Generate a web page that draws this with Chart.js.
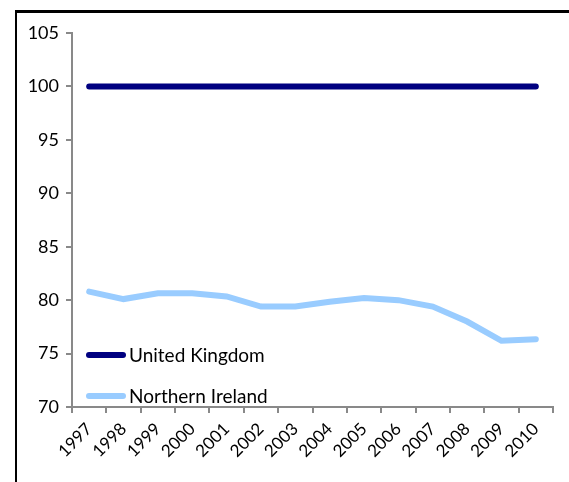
<!DOCTYPE html>
<html>
<head>
<meta charset="utf-8">
<script src="https://cdn.jsdelivr.net/npm/chart.js@4"></script>
<style>
  body { margin: 0; background: #fff; }
  #frame {
    position: absolute; left: 15px; top: 10px; right: 0; bottom: 0;
    border-left: 2px solid #000; border-top: 3px solid #000;
  }
  #chart { position: absolute; left: 0; top: 0; }
</style>
</head>
<body>
<div id="frame"></div>
<canvas id="chart" width="569" height="482"></canvas>
<script>
// years on the x axis
const years = ["1997", "1998", "1999", "2000", "2001", "2002", "2003",
  "2004", "2005", "2006", "2007", "2008", "2009", "2010"];

// index values, UK = 100
const ukValues = [100, 100, 100, 100, 100, 100, 100, 100, 100, 100, 100, 100, 100, 100];
const niValues = [80.8, 80.1, 80.65, 80.65, 80.35, 79.4, 79.4, 79.85, 80.2, 80.0, 79.4, 78.0, 76.2, 76.35];

const yTicks = [70, 75, 80, 85, 90, 95, 100, 105];

const FONT = "Lato, 'Open Sans', sans-serif";
const axisGrey = "#898989";

// draws the legend inside the plot, bottom left
const insideLegend = {
  id: "insideLegend",
  afterDraw(chart) {
    const ctx = chart.ctx;
    const rows = [355, 396];
    ctx.save();
    chart.data.datasets.forEach((ds, i) => {
      const y = rows[i];
      ctx.strokeStyle = ds.borderColor;
      ctx.lineWidth = ds.borderWidth;
      ctx.lineCap = "round";
      ctx.beginPath();
      ctx.moveTo(89, y);
      ctx.lineTo(123, y);
      ctx.stroke();
      ctx.fillStyle = "#000";
      ctx.font = "19px " + FONT;
      ctx.textBaseline = "middle";
      ctx.fillText(ds.label, 129, y + 1);
    });
    ctx.restore();
  }
};

const ctx = document.getElementById("chart").getContext("2d");
new Chart(ctx, {
  type: "line",
  data: {
    labels: years,
    datasets: [
      {
        label: "United Kingdom",
        data: ukValues,
        borderColor: "#000080",
        borderWidth: 6,
        borderCapStyle: "round",
        pointRadius: 0,
        tension: 0
      },
      {
        label: "Northern Ireland",
        data: niValues,
        borderColor: "#99ccff",
        borderWidth: 6,
        borderCapStyle: "round",
        pointRadius: 0,
        tension: 0
      }
    ]
  },
  options: {
    responsive: false,
    animation: false,
    layout: { padding: { top: 33, right: 16, left: 0, bottom: 0 } },
    plugins: {
      legend: { display: false },
      tooltip: { enabled: false }
    },
    scales: {
      x: {
        offset: true,
        grid: { display: true, drawOnChartArea: false, offset: true, color: axisGrey, lineWidth: 2, tickLength: 6 },
        border: { color: axisGrey, width: 2 },
        ticks: {
          color: "#000",
          font: { family: FONT, size: 17 },
          minRotation: 45,
          maxRotation: 45,
          padding: 6
        },
        afterFit(scale) { scale.height = 75; }
      },
      y: {
        min: 70,
        max: 105,
        afterBuildTicks(scale) { scale.ticks = yTicks.map(v => ({ value: v })); },
        grid: { display: true, drawOnChartArea: false, color: axisGrey, lineWidth: 2, tickLength: 6 },
        border: { color: axisGrey, width: 2 },
        ticks: {
          color: "#000",
          font: { family: FONT, size: 18 },
          padding: 7
        },
        afterFit(scale) { scale.width = 72; }
      }
    }
  },
  plugins: [insideLegend]
});
</script>
</body>
</html>
